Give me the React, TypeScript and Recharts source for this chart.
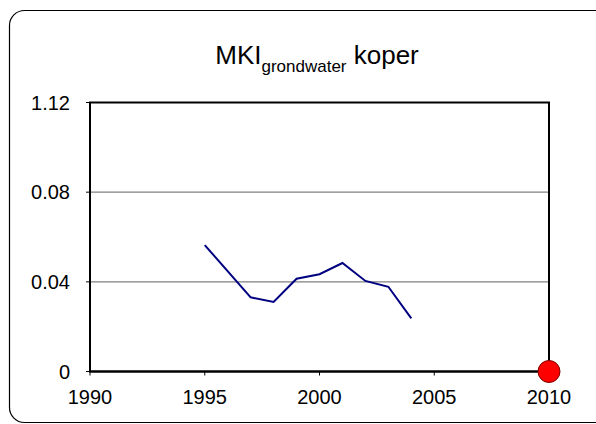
import React from "react";
import {
    ComposedChart,
    Line,
    Scatter,
    XAxis,
    YAxis,
    CartesianGrid,
    ReferenceArea,
} from "recharts";

const years = [1995, 1997, 1998, 1999, 2000, 2001, 2002, 2003, 2004];
const copperValues = [0.0564, 0.0331, 0.031, 0.0414, 0.0434, 0.0484, 0.0404, 0.0378, 0.0237];

const targetYears = [2010];
const targetValues = [0];

const xTicks = [1990, 1995, 2000, 2005, 2010];
const yTicks = [0, 0.04, 0.08, 0.12];
const yTickLabels = ["0", "0.04", "0.08", "1.12"];

const FONT = "'Liberation Sans', Arial, sans-serif";

const RedDot = (props: any) => {
    const { cx, cy } = props;
    return <circle cx={cx} cy={cy} r={11} fill="#ff0000" stroke="#7a0000" strokeWidth={1} />;
};

export default function App() {
    const lineData = years.map((year, i) => ({ year, value: copperValues[i] }));
    const targetData = targetYears.map((year, i) => ({ year, value: targetValues[i] }));

    const tickStyle = { fill: "#000", fontSize: 20, fontFamily: FONT };

    return (
        <div style={{ position: "absolute", left: 0, top: 0, width: 596, height: 424, background: "#fff", overflow: "hidden" }}>
            <svg width={596} height={424} style={{ position: "absolute", left: 0, top: 0 }}>
                <rect x={9.5} y={10.5} width={640} height={412} rx={15} fill="none" stroke="#000" strokeWidth={1.2} />
                <text x={317} y={64} textAnchor="middle" fontFamily={FONT} fill="#000">
                    <tspan fontSize={26}>MKI</tspan>
                    <tspan fontSize={17} dy={8}>grondwater</tspan>
                    <tspan fontSize={26} dy={-8}> koper</tspan>
                </text>
            </svg>
            <div style={{ position: "absolute", left: 0, top: 0 }}>
                <ComposedChart
                    width={596}
                    height={424}
                    margin={{ top: 102.5, right: 47, bottom: 22.5, left: 30 }}
                >
                    <CartesianGrid vertical={false} stroke="#808080" strokeWidth={1.2} />
                    <XAxis
                        dataKey="year"
                        type="number"
                        domain={[1990, 2010]}
                        ticks={xTicks}
                        height={30}
                        tickSize={4}
                        tickMargin={14}
                        tick={tickStyle}
                        axisLine={{ stroke: "#000", strokeWidth: 2 }}
                        tickLine={{ stroke: "#000" }}
                        allowDuplicatedCategory={false}
                    />
                    <YAxis
                        type="number"
                        domain={[0, 0.12]}
                        ticks={yTicks}
                        width={60}
                        tickSize={4}
                        tickMargin={16}
                        tick={tickStyle}
                        tickFormatter={(v: number) => yTickLabels[yTicks.indexOf(v)] ?? String(v)}
                        axisLine={{ stroke: "#000", strokeWidth: 2 }}
                        tickLine={{ stroke: "#000" }}
                    />
                    <ReferenceArea
                        x1={1990}
                        x2={2010}
                        y1={0}
                        y2={0.12}
                        fill="none"
                        fillOpacity={0}
                        stroke="#000"
                        strokeWidth={2}
                    />
                    <Line
                        data={lineData}
                        dataKey="value"
                        stroke="#000080"
                        strokeWidth={2}
                        dot={false}
                        activeDot={false}
                        isAnimationActive={false}
                    />
                    <Scatter
                        data={targetData}
                        dataKey="value"
                        shape={<RedDot />}
                        isAnimationActive={false}
                    />
                </ComposedChart>
            </div>
        </div>
    );
}
